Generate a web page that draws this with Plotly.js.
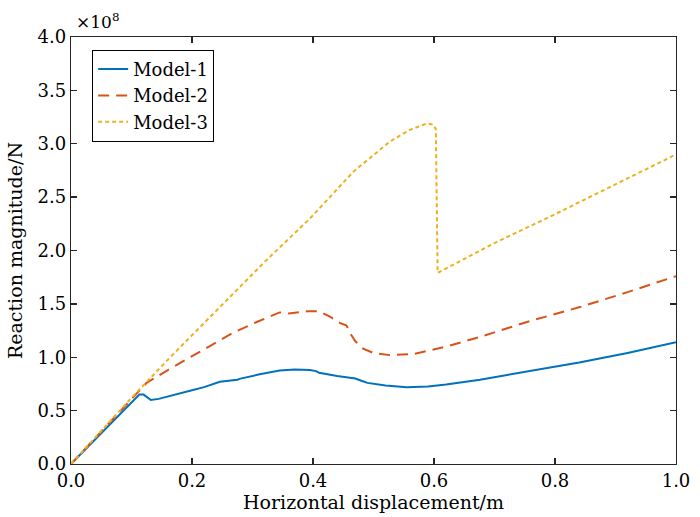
<!DOCTYPE html>
<html>
<head>
<meta charset="utf-8">
<script src="https://cdn.plot.ly/plotly-3.0.1.min.js"></script>
<style>
  html, body { margin: 0; padding: 0; background: #fff; }
  #chart { width: 700px; height: 517px; }
</style>
</head>
<body>
<div id="chart"></div>
<script>
// Horizontal displacement (m) and reaction magnitude (×10^8 N)
const model1X = [0, 0.05, 0.10, 0.113, 0.12, 0.127, 0.132, 0.145, 0.16, 0.18, 0.20, 0.22, 0.246, 0.275, 0.28, 0.312, 0.345, 0.37, 0.395, 0.405, 0.41, 0.44, 0.47, 0.48, 0.49, 0.52, 0.555, 0.59, 0.62, 0.676, 0.76, 0.84, 0.92, 1.0];
const model1Y = [0, 0.29, 0.58, 0.65, 0.65, 0.62, 0.60, 0.61, 0.63, 0.66, 0.69, 0.72, 0.77, 0.79, 0.80, 0.84, 0.875, 0.885, 0.88, 0.87, 0.855, 0.825, 0.80, 0.78, 0.76, 0.735, 0.72, 0.725, 0.745, 0.79, 0.87, 0.95, 1.04, 1.14];

const model2X = [0, 0.05, 0.10, 0.125, 0.16, 0.197, 0.23, 0.268, 0.307, 0.335, 0.345, 0.36, 0.39, 0.41, 0.428, 0.445, 0.455, 0.458, 0.462, 0.47, 0.483, 0.50, 0.527, 0.566, 0.60, 0.62, 0.676, 0.759, 0.841, 0.92, 1.0];
const model2Y = [0, 0.30, 0.61, 0.76, 0.88, 1.00, 1.10, 1.23, 1.33, 1.40, 1.42, 1.41, 1.43, 1.43, 1.38, 1.32, 1.30, 1.27, 1.22, 1.15, 1.08, 1.04, 1.02, 1.03, 1.07, 1.10, 1.19, 1.34, 1.47, 1.61, 1.76];

const model3X = [0, 0.05, 0.10, 0.164, 0.246, 0.323, 0.395, 0.467, 0.527, 0.56, 0.588, 0.598, 0.603, 0.605, 0.606, 0.70, 0.80, 0.90, 1.0];
const model3Y = [0, 0.31, 0.62, 1.00, 1.47, 1.91, 2.30, 2.74, 3.02, 3.13, 3.19, 3.18, 3.14, 2.50, 1.79, 2.07, 2.34, 2.62, 2.90];

const xTicks = [0, 0.2, 0.4, 0.6, 0.8, 1.0];
const xTickLabels = ['0.0', '0.2', '0.4', '0.6', '0.8', '1.0'];
const yTicks = [0, 0.5, 1.0, 1.5, 2.0, 2.5, 3.0, 3.5, 4.0];
const yTickLabels = ['0.0', '0.5', '1.0', '1.5', '2.0', '2.5', '3.0', '3.5', '4.0'];

const FONT = 'DejaVu Serif';
const AXC = '#262626';

const traces = [
  { x: model1X, y: model1Y, name: 'Model-1', mode: 'lines',
    line: { color: '#0072BD', width: 2, dash: 'solid' } },
  { x: model2X, y: model2Y, name: 'Model-2', mode: 'lines',
    line: { color: '#D95319', width: 2, dash: '11px,7px' } },
  { x: model3X, y: model3Y, name: 'Model-3', mode: 'lines',
    line: { color: '#EDB120', width: 2, dash: '4px,3px' } }
];

const axisCommon = {
  showgrid: false, zeroline: false, showline: true, mirror: 'ticks',
  linecolor: AXC, linewidth: 1.3, ticks: 'inside', ticklen: 6, tickwidth: 1.3,
  tickcolor: AXC, tickfont: { family: FONT, size: 18, color: '#000' }
};

const layout = {
  width: 700, height: 517,
  margin: { l: 71, r: 24, t: 37, b: 53 },
  paper_bgcolor: '#fff', plot_bgcolor: '#fff',
  font: { family: FONT, size: 18, color: '#000' },
  showlegend: true,
  legend: {
    x: 0.035, y: 0.97, xanchor: 'left', yanchor: 'top',
    bordercolor: '#000', borderwidth: 1, bgcolor: '#fff',
    font: { family: FONT, size: 18, color: '#000' },
    tracegroupgap: 0
  },
  xaxis: Object.assign({}, axisCommon, {
    range: [0, 1.0], tickvals: xTicks, ticktext: xTickLabels,
    title: { text: 'Horizontal displacement/m', font: { family: FONT, size: 19, color: '#000' }, standoff: 1 }
  }),
  yaxis: Object.assign({}, axisCommon, {
    range: [0, 4.0], tickvals: yTicks, ticktext: yTickLabels,
    title: { text: 'Reaction magnitude/N', font: { family: FONT, size: 19, color: '#000' }, standoff: 9 }
  }),
  annotations: [
    { text: '×10<sup>8</sup>', xref: 'paper', yref: 'paper', x: 0.005, y: 1.0,
      xanchor: 'left', yanchor: 'bottom', yshift: 3, showarrow: false,
      font: { family: FONT, size: 17, color: '#000' } }
  ]
};

Plotly.newPlot('chart', traces, layout, { displayModeBar: false, staticPlot: true });
</script>
</body>
</html>
